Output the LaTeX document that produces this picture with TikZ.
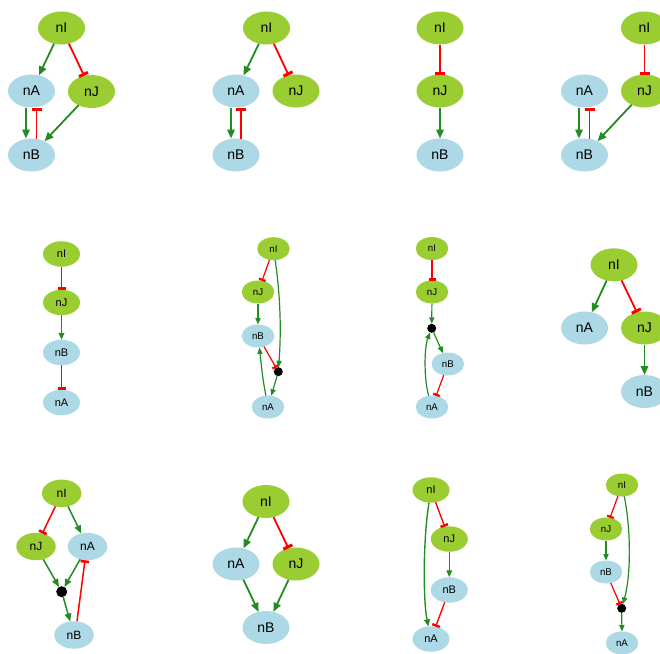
\documentclass[tikz,border=0pt]{standalone}
\usepackage{fontspec}
\setmainfont{Liberation Sans}
\usetikzlibrary{shapes.geometric,arrows.meta}
\definecolor{ygreen}{RGB}{154,205,50}
\definecolor{lblue}{RGB}{173,216,230}
\definecolor{fgreen}{RGB}{34,139,34}
\tikzset{
  nd/.style={ellipse, inner sep=0pt, outer sep=0pt, text=black},
  gr/.style={nd, fill=ygreen},
  bl/.style={nd, fill=lblue},
  L/.style={minimum width=47pt, minimum height=33pt, font=\fontsize{14}{14}\selectfont},
  M/.style={minimum width=39.5pt, minimum height=27.5pt, font=\fontsize{12}{12}\selectfont},
  S/.style={minimum width=37pt, minimum height=25.5pt, font=\fontsize{11}{11}\selectfont},
  XS/.style={minimum width=32.5pt, minimum height=23pt, font=\fontsize{9.7}{9.7}\selectfont},
  dot/.style={circle, fill=black, inner sep=0pt, outer sep=0pt, minimum size=#1},
  actL/.style={draw=fgreen, line width=1.8pt, -{Triangle[length=9pt,width=7.5pt]}},
  inhL/.style={draw=red, line width=1.8pt, -{Rectangle[length=3pt,width=10pt]}},
  actM/.style={draw=fgreen, line width=1.5pt, -{Triangle[length=8pt,width=6.5pt]}},
  inhM/.style={draw=red, line width=1.5pt, -{Rectangle[length=2.6pt,width=8.5pt]}},
  actS/.style={draw=fgreen, line width=1.35pt, -{Triangle[length=7pt,width=5.8pt]}},
  inhS/.style={draw=red, line width=1.35pt, -{Rectangle[length=2.4pt,width=8pt]}},
  actXS/.style={draw=fgreen, line width=1.2pt, -{Triangle[length=6.5pt,width=5.2pt]}},
  inhXS/.style={draw=red, line width=1.2pt, -{Rectangle[length=2.2pt,width=7pt]}},
}
\begin{document}
\begin{tikzpicture}[x=1pt,y=-1pt]
\useasboundingbox (0,0) rectangle (660,653);
% Panel 1
\node[gr,L] (I1) at (61.5,28) {nI};
\node[bl,L] (A1) at (31.5,91) {nA};
\node[gr,L] (J1) at (91.5,91.5) {nJ};
\node[bl,L] (B1) at (31.5,155) {nB};
\draw[actL] (I1) -- (A1);
\draw[inhL] (I1) -- (J1);
\draw[actL] ([xshift=-5.5pt]A1.south) -- ([xshift=-5.5pt]B1.north);
\draw[inhL] ([xshift=5pt]B1.north) -- ([xshift=5pt]A1.south);
\draw[actL] (J1) -- (B1);
% Panel 2
\node[gr,L] (I2) at (266.5,28) {nI};
\node[bl,L] (A2) at (236,91) {nA};
\node[gr,L] (J2) at (296,91) {nJ};
\node[bl,L] (B2) at (236,155) {nB};
\draw[actL] (I2) -- (A2);
\draw[inhL] (I2) -- (J2);
\draw[actL] ([xshift=-5pt]A2.south) -- ([xshift=-5pt]B2.north);
\draw[inhL] ([xshift=5pt]B2.north) -- ([xshift=5pt]A2.south);
% Panel 3
\node[gr,L] (I3) at (440,28) {nI};
\node[gr,L] (J3) at (440,91) {nJ};
\node[bl,L] (B3) at (440,155) {nB};
\draw[inhL] (I3) -- (J3);
\draw[actL] (J3) -- (B3);
% Panel 4
\node[gr,L] (I4) at (644.5,28) {nI};
\node[bl,L] (A4) at (584.5,91) {nA};
\node[gr,L] (J4) at (644.5,91) {nJ};
\node[bl,L] (B4) at (584.5,155) {nB};
\draw[inhL] (I4) -- (J4);
\draw[actL] ([xshift=-5.5pt]A4.south) -- ([xshift=-5.5pt]B4.north);
\draw[inhL] ([xshift=5pt]B4.north) -- ([xshift=5pt]A4.south);
\draw[actL] (J4) -- (B4);
% Panel 5
\node[gr,S] (I5) at (61.5,254) {nI};
\node[gr,S] (J5) at (61.5,302.5) {nJ};
\node[bl,S] (B5) at (61.5,352.5) {nB};
\node[bl,S] (A5) at (61.5,402.5) {nA};
\draw[inhS] (I5) -- (J5);
\draw[actS] (J5) -- (B5);
\draw[inhS] (B5) -- (A5);
% Panel 6
\node[gr,XS] (I6) at (273.5,248.7) {nI};
\node[gr,XS] (J6) at (258,292) {nJ};
\node[bl,XS] (B6) at (258,336) {nB};
\node[bl,XS] (A6) at (268,407) {nA};
\node[dot=9pt] (D6) at (278.3,371.7) {};
\draw[inhXS] (I6) -- (J6);
\draw[actXS] (J6) -- (B6);
\draw[inhXS] (B6) -- (D6);
\draw[actXS] (I6) .. controls (281,300) and (281,335) .. (D6);
\draw[actXS] (D6) -- (A6);
\draw[actXS] (A6) .. controls (263,380) .. (B6);
% Panel 7
\node[gr,XS] (I7) at (432,248.5) {nI};
\node[gr,XS] (J7) at (432,292) {nJ};
\node[dot=9pt] (D7) at (431.7,328.3) {};
\node[bl,XS] (B7) at (447.8,364) {nB};
\node[bl,XS] (A7) at (432,407) {nA};
\draw[inhXS] (I7) -- (J7);
\draw[actXS] (J7) -- (D7);
\draw[actXS] (D7) -- (B7);
\draw[inhXS] (B7) -- (A7);
\draw[actXS] (A7) .. controls (424,380) and (424,348) .. (D7);
% Panel 8
\node[gr,L] (I8) at (614,264.8) {nI};
\node[bl,L] (A8) at (584.5,328) {nA};
\node[gr,L] (J8) at (644.5,328) {nJ};
\node[bl,L] (B8) at (644.5,391.5) {nB};
\draw[actL] (I8) -- (A8);
\draw[inhL] (I8) -- (J8);
\draw[actL] (J8) -- (B8);
% Panel 9
\node[gr,M] (I9) at (61.7,493.3) {nI};
\node[gr,M] (J9) at (36,546.5) {nJ};
\node[bl,M] (A9) at (87.5,546.5) {nA};
\node[dot=11pt] (D9) at (61.7,591.7) {};
\node[bl,M] (B9) at (74,635) {nB};
\draw[inhM] (I9) -- (J9);
\draw[actM] (I9) -- (A9);
\draw[actM] (J9) -- (D9);
\draw[actM] (A9) -- (D9);
\draw[actM] (D9) -- (B9);
\draw[inhM] ([xshift=3pt]B9.north) -- ([xshift=-2.5pt]A9.south);
% Panel 10
\node[gr,L] (I10) at (266,501.5) {nI};
\node[bl,L] (A10) at (236,564) {nA};
\node[gr,L] (J10) at (296,564) {nJ};
\node[bl,L] (B10) at (266,627.5) {nB};
\draw[actL] (I10) -- (A10);
\draw[inhL] (I10) -- (J10);
\draw[actL] (A10) -- (B10);
\draw[actL] (J10) -- (B10);
% Panel 11
\node[gr,S] (I11) at (431,490) {nI};
\node[gr,S] (J11) at (449.3,539) {nJ};
\node[bl,S] (B11) at (449.3,590) {nB};
\node[bl,S] (A11) at (431,639) {nA};
\draw[inhS] (I11) -- (J11);
\draw[actS] (J11) -- (B11);
\draw[inhS] (B11) -- (A11);
\draw[actS] (I11) .. controls (423,540) and (423,600) .. (A11);
% Panel 12
\node[gr,XS] (I12) at (622,485) {nI};
\node[gr,XS] (J12) at (606,529) {nJ};
\node[bl,XS] (B12) at (606,572) {nB};
\node[dot=9pt] (D12) at (621.7,608.3) {};
\node[bl,XS] (A12) at (622,643) {nA};
\draw[inhXS] (I12) -- (J12);
\draw[actXS] (J12) -- (B12);
\draw[inhXS] (B12) -- (D12);
\draw[actXS] (I12) .. controls (631,530) and (631,575) .. (D12);
\draw[actXS] (D12) -- (A12);
\end{tikzpicture}
\end{document}
